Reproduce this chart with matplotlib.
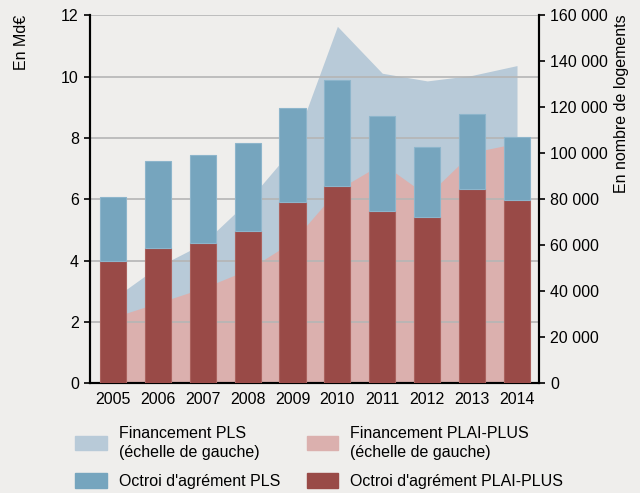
import numpy as np
import matplotlib
matplotlib.use('Agg')
import matplotlib.pyplot as plt
import matplotlib.ticker as mtick
import matplotlib.patches as mpatches

plt.rcParams['font.family'] = ['Liberation Sans', 'DejaVu Sans']

years = [2005, 2006, 2007, 2008, 2009, 2010, 2011, 2012, 2013, 2014]

# Financement (Md EUR, echelle de gauche) - top of each area
fin_pls_top = [2.75, 3.80, 4.55, 5.93, 7.65, 11.64, 10.11, 9.86, 10.04, 10.36]
fin_plai = [2.15, 2.62, 3.10, 3.70, 4.62, 6.31, 7.17, 6.12, 7.53, 7.83]

# Octroi d'agrement (nombre de logements, echelle de droite)
agr_plai = [53200, 59000, 61000, 66100, 79000, 85800, 75000, 72200, 84600, 79800]
agr_pls = [27900, 37500, 38100, 38500, 40600, 45900, 41200, 30500, 32500, 27200]

bg = '#efeeec'
c_fin_pls = '#b8cad8'
c_fin_plai = '#dbb0ae'
c_agr_pls = '#76a5be'
c_agr_plai = '#994a47'

fig = plt.figure(figsize=(6.4, 4.93), dpi=100, facecolor=bg)
ax = fig.add_axes([0.1406, 0.2225, 0.7016, 0.7465])
ax.set_facecolor(bg)

x = np.array(years)
ax.fill_between(x, 0, fin_pls_top, color=c_fin_pls, lw=0, zorder=1)
ax.fill_between(x, 0, fin_plai, color=c_fin_plai, lw=0, zorder=1.1)
ax.set_ylim(0, 12)
ax.set_yticks(range(0, 13, 2))
ax.set_xlim(2004.49, 2014.49)
ax.set_xticks(years)
ax.grid(axis='y', color='#b5b5b5', lw=1.2)
ax.tick_params(axis='x', length=0, labelsize=11.5, pad=6)
ax.tick_params(axis='y', length=4, width=1.2, labelsize=11.5, pad=4, direction='out')

ax2 = ax.twinx()
ax2.bar(x, agr_plai, width=0.58, color=c_agr_plai, edgecolor='#ab625e', lw=0.8, zorder=3)
ax2.bar(x, agr_pls, width=0.58, bottom=agr_plai, color=c_agr_pls, edgecolor='#8db5cb', lw=0.8, zorder=3)
ax2.set_ylim(0, 160000)
ax2.set_yticks(range(0, 160001, 20000))
ax2.yaxis.set_major_formatter(mtick.FuncFormatter(lambda v, p: '{:,.0f}'.format(v).replace(',', ' ')))
ax2.tick_params(axis='y', length=4, width=1.2, labelsize=11.5, pad=4, direction='out')

for a in (ax, ax2):
    a.spines['top'].set_visible(False)
    for s in ('left', 'right', 'bottom'):
        a.spines[s].set_linewidth(1.5)
        a.spines[s].set_color('black')

fig.text(0.034, 0.97, 'En Md€', rotation=90, va='top', ha='center', fontsize=11.5)
fig.text(0.971, 0.97, 'En nombre de logements', rotation=90, va='top', ha='center', fontsize=11.5)

handles = [mpatches.Patch(color=c_fin_pls, label='Financement PLS\n(échelle de gauche)'),
           mpatches.Patch(color=c_agr_pls, label="Octroi d'agrément PLS"),
           mpatches.Patch(color=c_fin_plai, label='Financement PLAI-PLUS\n(échelle de gauche)'),
           mpatches.Patch(color=c_agr_plai, label="Octroi d'agrément PLAI-PLUS")]
leg = fig.legend(handles=handles, ncol=2, loc='upper left', bbox_to_anchor=(0.1045, 0.153),
                 frameon=False, fontsize=11.5, handlelength=2.0, handleheight=1.0,
                 handletextpad=0.75, columnspacing=1.65, labelspacing=0.85, borderpad=0)
for t in leg.get_texts():
    t.set_linespacing(1.35)

fig.savefig('out.png', dpi=100, facecolor=bg)
